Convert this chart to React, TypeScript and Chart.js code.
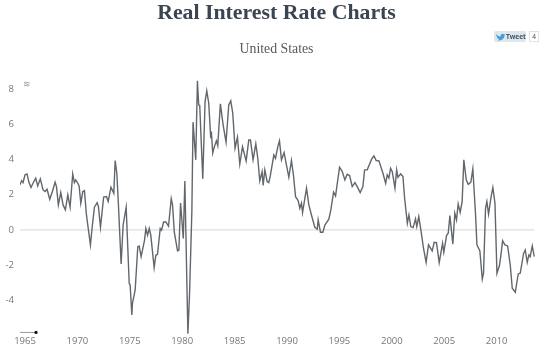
import React, { useEffect, useRef } from "react";
import { Chart, registerables } from "chart.js";

Chart.register(...registerables);

const TITLE = "Real Interest Rate Charts";
const SUBTITLE = "United States";
const YEAR_TICKS = [1965, 1970, 1975, 1980, 1985, 1990, 1995, 2000, 2005, 2010];
const VALUE_TICKS = [-4, -2, 0, 2, 4, 6, 8];

const years = [
  1964.52,1964.68,1964.81,1965.0,1965.19,1965.38,1965.57,1965.76,1966.02,1966.21,1966.46,1966.72,1966.91,1967.1,1967.36,1967.61,1967.87,1968.0,1968.18,1968.41,1968.63,1968.85,1969.08,1969.3,1969.55,1969.71,1969.84,1970.03,1970.16,1970.32,1970.51,1970.67,1970.86,1971.05,1971.24,1971.43,1971.62,1971.88,1972.0,1972.2,1972.5,1972.77,1972.93,1973.2,1973.47,1973.6,1973.76,1973.92,1974.17,1974.36,1974.65,1974.94,1975.03,1975.19,1975.25,1975.51,1975.76,1975.89,1976.08,1976.31,1976.4,
  1976.53,1976.69,1976.85,1977.0,1977.32,1977.48,1977.64,1977.9,1978.03,1978.22,1978.44,1978.69,1978.95,1979.08,1979.24,1979.55,1979.68,1979.84,1980.1,1980.25,1980.54,1980.7,1980.92,
  1981.03,1981.29,1981.45,1981.57,1981.67,1981.96,1982.18,1982.34,1982.53,1982.72,1982.78,1982.91,1983.07,1983.26,1983.39,1983.64,1983.9,1984.18,1984.44,1984.63,1984.82,1985.04,1985.27,1985.49,1985.75,1986.1,1986.35,1986.51,1986.76,1987.02,1987.21,1987.4,1987.62,1987.72,1987.88,1988.1,
  1988.26,1988.39,1988.74,1988.9,1989.12,1989.28,1989.47,1989.72,1989.91,1990.17,1990.42,1990.61,1990.81,1991.06,1991.22,1991.38,1991.48,1991.86,1992.08,1992.33,1992.65,1992.88,1992.97,1993.19,1993.42,1993.61,1993.99,1994.18,1994.44,1994.63,1995.01,1995.27,1995.52,1995.74,1995.97,1996.22,1996.48,1996.7,1996.98,1997.24,1997.4,1997.65,1998.07,1998.29,1998.51,1998.77,1999.15,1999.41,1999.56,1999.72,1999.88,2000.04,2000.3,2000.46,2000.58,2000.84,2001.06,2001.22,2001.48,2001.63,2001.81,
  2002.03,2002.26,2002.38,2002.57,2002.77,2003.02,2003.27,2003.5,2003.85,2004.04,2004.26,2004.52,2004.84,2004.96,2005.22,2005.38,2005.54,2005.82,2006.01,2006.17,2006.33,2006.52,2006.71,2006.87,2007.1,2007.29,2007.54,2007.73,2007.99,2008.12,2008.4,2008.63,2008.75,2008.94,2009.07,2009.23,2009.45,2009.64,2009.84,2010.03,2010.28,2010.41,2010.57,2010.79,2011.05,2011.3,2011.49,2011.78,2012.06,2012.25,2012.57,2012.73,2012.92,2013.08,2013.2,2013.4,2013.59,
];

const rates = [
  2.56,2.8,2.69,3.13,3.18,2.69,2.41,2.65,2.94,2.5,2.9,2.27,2.18,2.31,1.74,2.18,2.71,2.46,1.42,2.12,1.42,1.14,1.99,1.29,3.18,2.69,2.84,2.65,2.5,1.52,2.18,2.23,0.85,0,-0.85,0.28,1.29,1.55,1.33,0.15,1.86,1.89,1.61,2.42,2.08,3.94,3.22,1.33,-1.93,0.28,1.29,-3.03,-3.13,-4.83,-4.17,-3.41,-0.95,-0.91,-1.52,-0.85,-0.59,
  0.08,-0.3,0.08,-0.3,-2.14,-1.44,-1.38,0.08,-0.02,0.45,0.45,0.21,1.78,1.4,-0.11,-1.19,-1.16,1.53,-0.49,2.78,-5.89,-3.6,1.1,
  6.12,3.98,8.47,7.1,7.06,2.9,7.29,7.9,7.2,5.21,5.59,4.36,4.73,5.06,4.79,7.16,5.97,4.98,7.1,7.33,6.63,4.64,5.27,3.73,4.73,3.92,5.11,5.11,3.98,4.89,4.07,2.78,3.31,2.52,3.41,2.75,
  2.69,3.03,4.26,4.07,4.73,5.06,3.98,4.39,3.79,2.99,3.94,3.13,1.89,1.67,1.23,1.52,0.98,2.37,1.42,0.85,0.15,0.04,0.57,-0.13,-0.13,0.28,0.61,1.14,2.14,1.93,3.56,3.31,2.84,3.16,3.09,2.46,2.69,2.46,2.12,2.46,3.41,3.41,4.02,4.2,3.94,3.92,3.22,2.65,3.13,2.94,3.5,3.31,2.37,3.41,2.99,3.18,3.03,1.8,0.38,0.85,0.19,
  0.13,0.63,0.19,0.76,0,-1.04,-1.84,-0.85,-1.19,-0.7,-0.72,-1.86,-0.76,-1.27,-0.32,-0.19,0.81,-0.81,0.95,0.57,1.48,1,1.61,3.98,2.84,2.59,2.71,3.47,0.85,-0.85,-1.19,-2.8,-2.46,1.23,1.61,0.89,1.8,2.41,1.52,-2.46,-1.99,-1.42,-0.61,-0.85,-0.91,-1.99,-3.31,-3.54,-2.5,-2.46,-1.33,-1.14,-1.84,-1.42,-1.52,-0.91,-1.52,
];

const navigatorYears = [1964.52, 1966.05];
const navigatorValues = [-5.82, -5.82];
const zeroLineYears = [1964.52, 2013.57];
const zeroLineValues = [0, 0];

export default function App() {
  const ref = useRef<HTMLCanvasElement | null>(null);

  useEffect(() => {
    document.body.style.margin = "0";
    const chart = new Chart(ref.current!, {
      type: "line",
      data: {
        datasets: [
          {
            data: years.map((x, i) => ({ x, y: rates[i] })),
            borderColor: "#61676c",
            borderWidth: 1.4,
            pointRadius: 0,
            tension: 0,
            order: 1,
          },
          {
            data: zeroLineYears.map((x, i) => ({ x, y: zeroLineValues[i] })),
            borderColor: "#d6d6d6",
            borderWidth: 1,
            pointRadius: 0,
            order: 2,
          },
          {
            data: navigatorYears.map((x, i) => ({ x, y: navigatorValues[i] })),
            borderColor: "#9a9a9a",
            borderWidth: 1,
            pointRadius: [0, 1.6],
            pointBackgroundColor: "#111",
            pointBorderWidth: 0,
            order: 3,
          },
        ],
      },
      options: {
        animation: false,
        responsive: false,
        layout: { padding: { left: 3, right: 0, top: 0, bottom: 0 } },
        plugins: {
          legend: { display: false },
          tooltip: { enabled: false },
          title: {
            display: true,
            text: TITLE,
            color: "#3b4552",
            font: { family: "'Liberation Serif'", size: 21.8, weight: "bold", lineHeight: 1.2 },
            padding: { top: 0, bottom: 15.3 },
          },
          subtitle: {
            display: true,
            text: SUBTITLE,
            color: "#555a60",
            font: { family: "'Liberation Serif'", size: 13.8, lineHeight: 1.2 },
            padding: { top: 0, bottom: 13.4 },
          },
        },
        scales: {
          x: {
            type: "linear",
            min: 1964.52,
            max: 2014.71,
            afterBuildTicks: (axis: any) => {
              axis.ticks = YEAR_TICKS.map((value) => ({ value }));
            },
            afterFit: (axis: any) => {
              axis.height = 18.4;
            },
            grid: { display: false, drawTicks: false, tickLength: 0 },
            border: { display: false },
            ticks: {
              autoSkip: false,
              maxRotation: 0,
              padding: 0,
              color: "#777",
              font: { family: "'Open Sans'", size: 9.5 },
              callback: (v: any) => String(v),
            },
          },
          y: {
            min: -6,
            max: 9,
            afterBuildTicks: (axis: any) => {
              axis.ticks = VALUE_TICKS.map((value) => ({ value }));
            },
            afterFit: (axis: any) => {
              axis.width = 17;
            },
            grid: { display: false, drawTicks: false },
            border: { display: false },
            ticks: {
              padding: 6,
              color: "#777",
              font: { family: "'Open Sans'", size: 9.5 },
              callback: (v: any) => String(v),
            },
          },
        },
      },
    } as any);
    return () => chart.destroy();
  }, []);

  return (
    <div style={{ position: "relative", width: 550, height: 354, overflow: "hidden" }}>
      <canvas ref={ref} width={550} height={354} style={{ display: "block" }} />
      <span style={{ position: "absolute", left: 23, top: 77, font: "9px 'Open Sans'", color: "#999" }}>≋</span>
      <div
        style={{
          position: "absolute",
          left: 494,
          top: 31,
          width: 32,
          height: 11,
          background: "#dfe6ec",
          borderRadius: 2,
          font: "bold 6.5px 'Open Sans'",
          color: "#3b5568",
          lineHeight: "11px",
          boxSizing: "border-box",
          paddingLeft: 12,
        }}
      >
        Tweet
        <svg width="9" height="8" viewBox="0 0 9 8" style={{ position: "absolute", left: 2, top: 2 }}>
          <path d="M0 1 C2 3 3 3.5 4.5 3.5 C4.5 1 7 0 8 1.5 L9 1 L8.5 2.5 C8.5 5.5 5 8.5 1 7 C2.5 7 3 6.5 3.5 6 C2 6 1 5 1 4 C0.5 3 0 2 0 1 Z" fill="#3fa0d8" />
        </svg>
      </div>
      <div
        style={{
          position: "absolute",
          left: 529,
          top: 31,
          width: 10,
          height: 11,
          border: "1px solid #e2e2e2",
          boxSizing: "border-box",
          font: "6.5px 'Open Sans'",
          color: "#444",
          textAlign: "center",
          lineHeight: "9px",
        }}
      >
        4
      </div>
    </div>
  );
}
